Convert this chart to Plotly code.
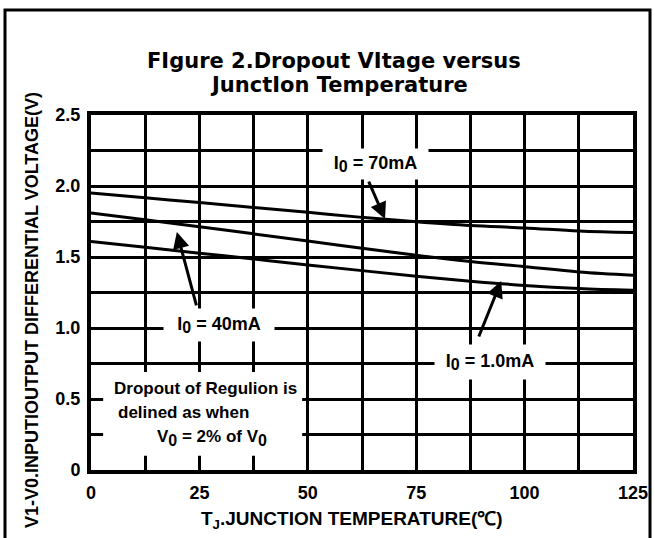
import plotly.graph_objects as go

# ---- data ----
temps = [0, 12.5, 25, 37.5, 50, 62.5, 75, 87.5, 100, 112.5, 125]
v_70mA = [1.95, 1.917, 1.883, 1.849, 1.815, 1.779, 1.748, 1.722, 1.705, 1.683, 1.672]
v_40mA = [1.81, 1.762, 1.713, 1.663, 1.612, 1.562, 1.512, 1.468, 1.432, 1.395, 1.372]
v_1mA = [1.61, 1.568, 1.527, 1.486, 1.444, 1.404, 1.365, 1.33, 1.30, 1.278, 1.265]

x_tickvals = [0, 25, 50, 75, 100, 125]
x_ticktext = ["0", "25", "50", "75", "100", "125"]
y_tickvals = [0, 0.5, 1.0, 1.5, 2.0, 2.5]
y_ticktext = ["0", "0.5", "1.0", "1.5", "2.0", "2.5"]

W, H = 655, 538
L, R, T, B = 91, 22, 115, 68
PW, PH = W - L - R, H - T - B

SANS = "Liberation Sans, Arial, sans-serif"
TITLEF = "DejaVu Sans, Liberation Sans, sans-serif"


def px(xp):
    return (xp - L) / PW


def py(yp):
    return (H - B - yp) / PH


fig = go.Figure()
for vals in (v_70mA, v_40mA, v_1mA):
    fig.add_trace(go.Scatter(x=temps, y=vals, mode="lines", line=dict(color="black", width=3, shape="spline"),
                             showlegend=False, hoverinfo="skip"))

axis_common = dict(showline=True, mirror=True, linecolor="black", linewidth=4, zeroline=False,
                   showgrid=True, gridcolor="black", gridwidth=3, ticks="",
                   tickfont=dict(family=SANS, size=18, color="black", weight="bold"))

fig.update_xaxes(range=[0, 125], tickvals=x_tickvals, ticktext=x_ticktext,
                 minor=dict(dtick=12.5, tick0=0, showgrid=True, gridcolor="black", gridwidth=3),
                 ticklabelstandoff=3, **axis_common)
fig.update_yaxes(range=[0, 2.5], tickvals=y_tickvals, ticktext=y_ticktext,
                 minor=dict(dtick=0.25, tick0=0, showgrid=True, gridcolor="black", gridwidth=3),
                 ticklabelstandoff=3, **axis_common)

shapes = [
    # outer frame
    dict(type="rect", xref="paper", yref="paper", x0=px(5), x1=px(650), y0=py(10), y1=py(560),
         line=dict(color="black", width=3), fillcolor="rgba(0,0,0,0)", layer="below"),
    # white area behind the dropout note
    dict(type="rect", xref="x", yref="y", x0=2.8, x1=48.7, y0=0.10, y1=0.69,
         fillcolor="white", line=dict(width=0), layer="above"),
]

SUB0 = "<sub><span style='font-size:16px'>0</span></sub>"

ann = []
tfont = dict(family=TITLEF, size=21, color="black", weight="bold")
ann.append(dict(text="FIgure 2.Dropout VItage versus", xref="paper", yref="paper", x=px(334), y=py(61),
                xanchor="center", yanchor="middle", showarrow=False, font=tfont))
ann.append(dict(text="JunctIon Temperature", xref="paper", yref="paper", x=px(339), y=py(85),
                xanchor="center", yanchor="middle", showarrow=False, font=tfont))
ann.append(dict(text="V1-V0.INPUTIOUTPUT DIFFERENTIAL VOLTAGE(V)", xref="paper", yref="paper",
                x=px(32), y=py(310), textangle=-90, xanchor="center", yanchor="middle", showarrow=False,
                font=dict(family=SANS, size=18, color="black", weight="bold")))
ann.append(dict(text="T<sub>J</sub>.JUNCTION TEMPERATURE(℃)", xref="paper", yref="paper",
                x=px(352), y=py(520), xanchor="center", yanchor="middle", showarrow=False,
                font=dict(family=SANS, size=19, color="black", weight="bold")))

lab_font = dict(family=SANS, size=18, color="black", weight="bold")
note_font = dict(family=SANS, size=17, color="black", weight="bold")
ann.append(dict(text="I" + SUB0 + " = 70mA", x=65.7, y=2.155, xref="x", yref="y", showarrow=False,
                bgcolor="white", width=105, height=30, borderpad=0, font=lab_font))
ann.append(dict(text="I" + SUB0 + " = 40mA", x=29.5, y=1.02, xref="x", yref="y", showarrow=False,
                bgcolor="white", width=110, height=32, borderpad=0, font=lab_font))
ann.append(dict(text="I" + SUB0 + " = 1.0mA", x=92.0, y=0.76, xref="x", yref="y", showarrow=False,
                bgcolor="white", width=110, height=34, borderpad=0, font=lab_font))

for (tx, ty, hx, hy) in [(63.9, 2.042, 67.8, 1.768), (24.4, 1.148, 19.8, 1.676), (89.3, 0.93, 94.6, 1.331)]:
    ann.append(dict(text="", x=hx, y=hy, ax=tx, ay=ty, xref="x", yref="y", axref="x", ayref="y",
                    showarrow=True, arrowhead=2, arrowsize=1.1, arrowwidth=3, arrowcolor="black"))

ann.append(dict(text="Dropout of Regulion is", x=4.84, y=0.577, xref="x", yref="y", xanchor="left",
                yanchor="middle", showarrow=False, font=note_font))
ann.append(dict(text="delined as when", x=5.77, y=0.408, xref="x", yref="y", xanchor="left",
                yanchor="middle", showarrow=False, font=note_font))
ann.append(dict(text="V" + SUB0 + " = 2% of V" + SUB0, x=14.76, y=0.225, xref="x", yref="y",
                xanchor="left", yanchor="middle", showarrow=False, font=note_font))

fig.update_layout(width=W, height=H, margin=dict(l=L, r=R, t=T, b=B, autoexpand=False),
                  paper_bgcolor="white", plot_bgcolor="white", shapes=shapes, annotations=ann,
                  showlegend=False)

fig.write_html("out.html", config={"displayModeBar": False},
               post_script="document.body.style.margin='0';")
